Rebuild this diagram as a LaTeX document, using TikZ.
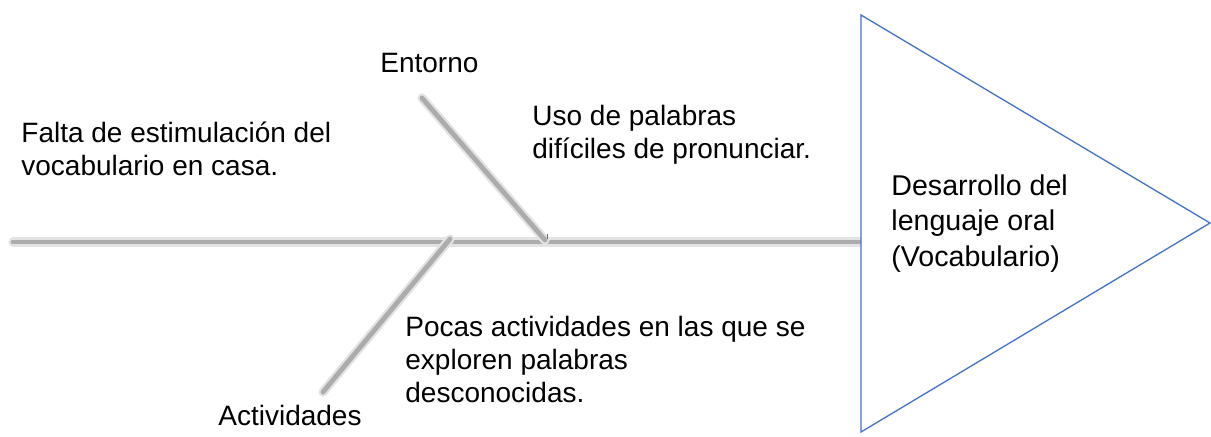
\documentclass[tikz,border=0pt]{standalone}
\usepackage{fontspec}
\setmainfont{Liberation Sans}
\definecolor{headblue}{RGB}{68,114,196}
\tikzset{
	bone/.style={draw=gray!65, line width=2.4pt, line cap=round, preaction={draw=gray!22, line width=4.6pt, line cap=round}},
	cause/.style={anchor=base west, align=left, inner sep=0pt, font=\fontsize{14}{16.5}\selectfont},
	effect/.style={anchor=base west, align=left, inner sep=0pt, font=\fontsize{14.3}{17.7}\selectfont}
}

\begin{document}
\begin{tikzpicture}[x=0.5pt, y=-0.5pt]
	\useasboundingbox (0,0) rectangle (1211,436);

	\coordinate (tail) at (13,242);
	\coordinate (headtop) at (861,15);
	\coordinate (headtip) at (1210,223);
	\coordinate (headbot) at (861,432);
	\coordinate (headin) at (861,242);
	\coordinate (entA) at (422,98);
	\coordinate (entB) at (545,240);
	\coordinate (actA) at (450,239);
	\coordinate (actB) at (323,392);

	\draw[bone] (tail) -- (headin);
	\draw[bone] (entA) -- (entB);
	\draw[bone] (actA) -- (actB);
	\draw[headblue, line width=0.5pt] (547,234) -- (547,239);

	\filldraw[draw=headblue, fill=white, line width=0.65pt, line join=miter] (headtop) -- (headtip) -- (headbot) -- cycle;

	\node[cause] (entorno) at (380,72) {Entorno};
	\node[cause] (falta) at (21,175) {Falta de estimulación del\\vocabulario en casa.};
	\node[cause] (uso) at (532,158) {Uso de palabras\\difíciles de pronunciar.};
	\node[cause] (pocas) at (405,402) {Pocas actividades en las que se\\exploren palabras\\desconocidas.};
	\node[cause] (activ) at (218,425) {Actividades};
	\node[effect] (efecto) at (891,266) {Desarrollo del\\lenguaje oral\\(Vocabulario)};

\end{tikzpicture}
\end{document}
